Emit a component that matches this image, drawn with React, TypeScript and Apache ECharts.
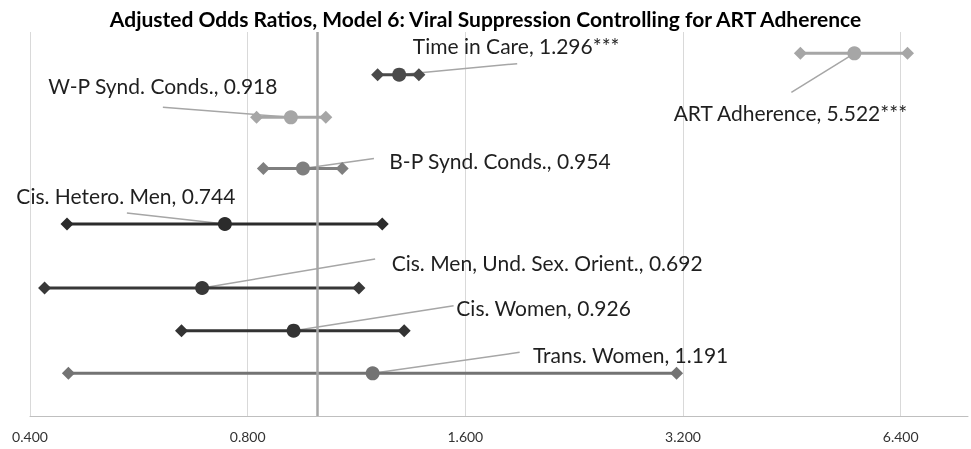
import React, { useEffect, useRef } from "react";
import * as echarts from "echarts";

// ---- Data ----
const categories = [
  "ART Adherence",
  "Time in Care",
  "W-P Synd. Conds.",
  "B-P Synd. Conds.",
  "Cis. Hetero. Men",
  "Cis. Men, Und. Sex. Orient.",
  "Cis. Women",
  "Trans. Women",
];
const oddsRatios = [5.522, 1.296, 0.918, 0.954, 0.744, 0.692, 0.926, 1.191];
const ciLower = [4.65, 1.21, 0.823, 0.841, 0.45, 0.419, 0.648, 0.452];
const ciUpper = [6.54, 1.38, 1.026, 1.081, 1.228, 1.14, 1.317, 3.135];
const significance = ["***", "***", "", "", "", "", "", ""];
const rowLevels = [8.5, 8, 7, 5.8, 4.5, 3, 2, 1];
const referenceOR = 1;

// axis: log base 2, starting at 0.4
const AXIS_BASE = 0.4;
const AXIS_MAX = 7.93;
const Y_MAX = 9;

// ---- Styling ----
const seriesColors = [
  "#a6a6a6",
  "#4a4a4a",
  "#a6a6a6",
  "#7f7f7f",
  "#2b2b2b",
  "#383838",
  "#333333",
  "#737373",
];
// label centre offset from the point (px)
const labelOffsets: [number, number][] = [
  [-64, 59],
  [117, -29],
  [-128, -32],
  [197, -8],
  [-99, -29],
  [345, -26],
  [250, -23],
  [258, -19],
];
// leader-line end offset from the point (px)
const leaderEnds: [number, number][] = [
  [-63, 39],
  [118, -11],
  [-128, -10],
  [71, -10],
  [-98, -11],
  [173, -29],
  [160, -25],
  [147, -21],
];

const FONT = "Lato, 'Open Sans', sans-serif";
const toAxis = (v: number) => Math.log2(v / AXIS_BASE);

export default function App() {
  const ref = useRef<HTMLDivElement>(null);
  useEffect(() => {
    if (!ref.current) return;
    const chart = echarts.init(ref.current, null, { renderer: "svg" });

    const series: any[] = categories.map((name, i) => {
      const color = seriesColors[i];
      return {
        name,
        type: "line",
        data: [
          { value: [toAxis(ciLower[i]), rowLevels[i]], symbol: "diamond", symbolSize: 13 },
          {
            value: [toAxis(oddsRatios[i]), rowLevels[i]],
            symbol: "circle",
            symbolSize: 14,
            label: {
              show: true,
              formatter: `${name}, ${oddsRatios[i].toFixed(3)}${significance[i]}`,
            },
          },
          { value: [toAxis(ciUpper[i]), rowLevels[i]], symbol: "diamond", symbolSize: 13 },
        ],
        showAllSymbol: true,
        lineStyle: { color, width: 3 },
        itemStyle: { color, opacity: 1 },
        label: {
          show: false,
          position: "inside",
          fontFamily: FONT,
          fontSize: 21,
          color: "#1f1f1f",
        },
        labelLayout: { dx: labelOffsets[i][0], dy: labelOffsets[i][1] },
        emphasis: { disabled: true },
        z: 3,
      };
    });

    series.push({
      type: "line",
      data: [],
      markLine: {
        silent: true,
        symbol: "none",
        label: { show: false },
        lineStyle: { color: "#a6a6a6", width: 2.5, type: "solid" },
        data: [{ xAxis: toAxis(referenceOR) }],
      },
      z: 2,
    });

    chart.setOption({
      animation: false,
      title: {
        text: "Adjusted Odds Ratios, Model 6: Viral Suppression Controlling for ART Adherence",
        left: "center",
        top: 3,
        textStyle: { fontFamily: FONT, fontSize: 21, fontWeight: "bold", color: "#000" },
      },
      grid: { left: 30, right: 3, top: 32, bottom: 33 },
      xAxis: {
        type: "value",
        min: 0,
        max: toAxis(AXIS_MAX),
        interval: 1,
        axisLine: { show: true, lineStyle: { color: "#bfbfbf", width: 1 } },
        axisTick: { show: false },
        splitLine: { show: true, showMaxLine: false, lineStyle: { color: "#d9d9d9", width: 1 } },
        axisLabel: {
          showMaxLabel: false,
          margin: 13,
          fontFamily: FONT,
          fontSize: 14,
          color: "#333333",
          formatter: (u: number) =>
            Math.abs(u - Math.round(u)) < 1e-6 ? (AXIS_BASE * Math.pow(2, u)).toFixed(3) : "",
        },
      },
      yAxis: {
        type: "value",
        min: 0,
        max: Y_MAX,
        show: false,
        splitLine: { show: false },
      },
      series,
    });

    // leader lines from each odds-ratio point to its label
    const leaders = categories.map((_, i) => {
      const p = chart.convertToPixel({ seriesIndex: i }, [toAxis(oddsRatios[i]), rowLevels[i]]) as number[];
      return {
        type: "line",
        z: 2,
        silent: true,
        shape: { x1: p[0], y1: p[1], x2: p[0] + leaderEnds[i][0], y2: p[1] + leaderEnds[i][1] },
        style: { stroke: "#a6a6a6", lineWidth: 1.5 },
      };
    });
    chart.setOption({ graphic: leaders });

    return () => chart.dispose();
  }, []);
  return (
    <div
      ref={ref}
      style={{ position: "fixed", left: 0, top: 0, width: 971, height: 449 }}
    />
  );
}
